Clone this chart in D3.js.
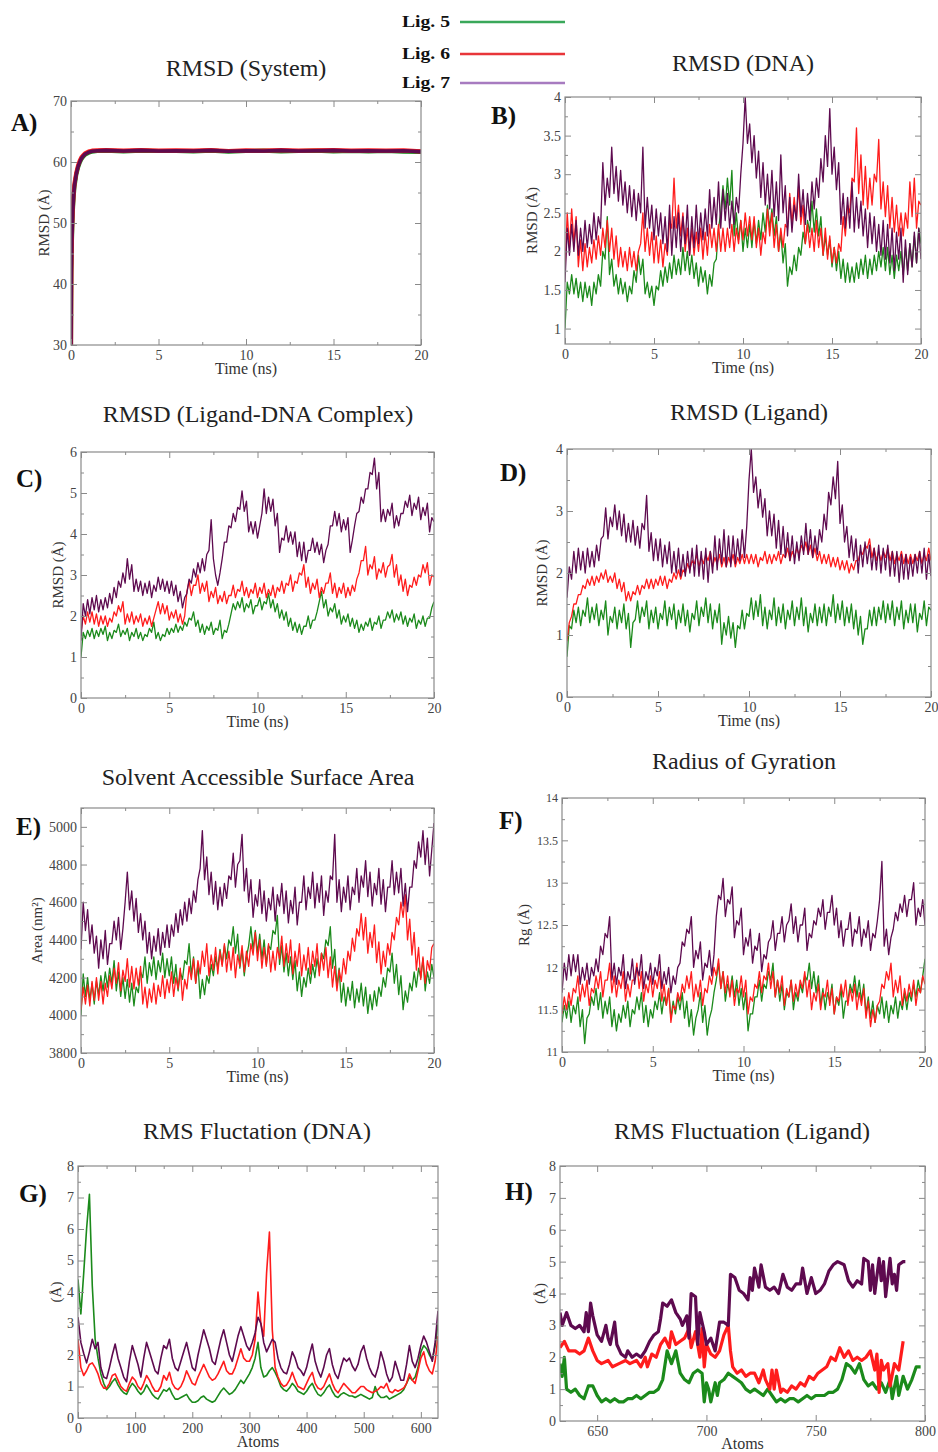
<!DOCTYPE html>
<html>
<head>
<meta charset="utf-8">
<script src="https://cdn.jsdelivr.net/npm/d3@7"></script>
<style>
  body { margin: 0; background: #fff; }
  svg { display: block; font-family: "Liberation Serif", "Times New Roman", serif; }
  .tick line { stroke: #8a8a8a; }
  .tick text { fill: #444; }
</style>
</head>
<body>
<svg width="938" height="1452"></svg>
<script>
// ---- categories / ticks ----
var ligands = ["Lig. 5", "Lig. 6", "Lig. 7"];
var time = d3.range(161).map(function (i) { return i * 0.125; });  // 0..20 ns
var atomsDNA = d3.range(0, 631, 5);                                  // 0..630
var timeTicks = [0, 5, 10, 15, 20], timeMinor = [2.5, 7.5, 12.5, 17.5];

// ---- A) RMSD (System) ----
var aTime = [0, 0.02, 0.05, 0.1, 0.15, 0.2, 0.3, 0.4, 0.5, 0.6, 0.7, 0.8, 1.0, 1.2, 1.5,
  2, 3, 4, 5, 6, 7, 8, 9, 10, 11, 12, 13, 14, 15, 16, 17, 18, 19, 20];
var aLig5 = [30, 41.5, 47, 51.8, 54.3, 56, 57.9, 59.1, 59.9, 60.5, 60.9, 61.2, 61.5, 61.7, 61.8,
  61.85, 61.75, 61.85, 61.8, 61.8, 61.75, 61.85, 61.7, 61.8, 61.85, 61.75, 61.8, 61.85, 61.75, 61.8, 61.75, 61.8, 61.7, 61.65];
var aLig6 = [30, 42.5, 48, 52.3, 54.8, 56.5, 58.2, 59.4, 60.2, 60.8, 61.1, 61.4, 61.7, 61.85, 61.9,
  61.95, 61.85, 61.95, 61.85, 61.9, 61.85, 61.95, 61.8, 61.9, 61.85, 61.95, 61.85, 61.9, 61.95, 61.85, 61.9, 61.85, 61.9, 61.75];
var aLig7 = [30, 42, 47.5, 52, 54.5, 56.2, 58, 59.2, 60, 60.6, 61, 61.3, 61.6, 61.75, 61.85,
  61.9, 61.8, 61.9, 61.8, 61.85, 61.8, 61.9, 61.75, 61.85, 61.8, 61.9, 61.8, 61.85, 61.9, 61.8, 61.85, 61.8, 61.85, 61.7];

// ---- B) RMSD (DNA), one row per ns ----
var bLig5 = [
  1.0, 1.6, 1.45, 1.7, 1.45, 1.65, 1.4, 1.6,
  1.35, 1.6, 1.4, 1.55, 1.3, 1.6, 1.45, 1.7,
  1.55, 2.0, 1.9, 2.45, 1.7, 1.9, 1.55, 1.7,
  1.45, 1.65, 1.45, 1.6, 1.35, 1.55, 1.45, 1.75,
  1.6, 1.95, 1.7, 1.9, 1.45, 1.6, 1.4, 1.55,
  1.3, 1.55, 1.5, 1.75, 1.55, 1.8, 1.6, 1.85,
  1.65, 1.95, 1.7, 1.9, 1.7, 2.05, 1.75, 2.0,
  1.7, 1.95, 1.65, 1.85, 1.55, 1.8, 1.6, 1.75,
  1.45, 1.7, 1.55, 1.85, 1.9, 2.3, 2.5, 2.85,
  2.55, 2.95, 2.6, 3.05, 2.2, 2.5, 2.15, 2.4,
  2.0, 2.3, 2.05, 2.35, 2.05, 2.4, 2.1, 2.4,
  2.15, 2.5, 2.25, 2.6, 2.3, 2.55, 2.2, 2.45,
  2.0, 2.25, 1.85, 2.1, 1.55, 1.8, 1.7, 1.95,
  1.75, 2.05, 1.95, 2.25, 2.1, 2.4, 2.25, 2.65,
  2.25, 2.55, 2.2, 2.45, 1.95, 2.2, 1.95, 2.15,
  1.8, 2.05, 1.75, 2.0, 1.65, 1.9, 1.6, 1.85,
  1.6, 1.8, 1.6, 1.85, 1.65, 1.9, 1.7, 1.95,
  1.65, 1.9, 1.7, 1.95, 1.75, 2.0, 1.8, 2.05,
  1.75, 2.05, 1.7, 1.95, 1.65, 1.95, 1.75, 2.0,
  1.7, 2.05, 1.75, 2.1, 1.8, 2.2, 1.85, 2.3,
  2.1];
var bLig6 = [
  1.75, 2.5, 2.05, 2.55, 2.1, 2.45, 1.8, 2.15,
  1.75, 2.1, 1.8, 2.05, 1.85, 2.15, 1.9, 2.2,
  1.95, 2.3, 2.05, 2.4, 2.0, 2.3, 1.9, 2.2,
  1.8, 2.05, 1.8, 2.0, 1.75, 2.05, 1.8, 2.0,
  1.75, 2.0, 2.1, 2.5, 2.0, 2.3, 1.95, 2.25,
  1.85, 2.2, 1.85, 2.15, 1.8, 2.1, 1.95, 2.4,
  2.3, 2.95, 2.3, 2.6, 2.2, 2.5, 2.0, 2.3,
  1.95, 2.3, 1.95, 2.25, 2.0, 2.3, 1.9, 2.25,
  1.95, 2.35, 2.05, 2.3, 2.0, 2.35, 2.0, 2.3,
  2.0, 2.3, 2.05, 2.35, 2.0, 2.3, 2.1, 2.4,
  2.15, 2.5, 2.2, 2.45, 2.15, 2.45, 2.05, 2.3,
  1.95, 2.25, 2.1, 2.55, 2.2, 2.5, 2.05, 2.35,
  2.0, 2.3, 2.05, 2.35, 2.3, 2.75, 2.35, 2.7,
  2.4, 2.85, 2.35, 2.6, 2.1, 2.35, 2.05, 2.3,
  2.0, 2.4, 2.05, 2.3, 1.95, 2.3, 1.9, 2.2,
  1.85, 2.05, 1.85, 2.1, 2.0, 2.45, 2.2, 2.6,
  2.5, 2.95, 2.9, 3.6, 2.75, 3.25, 2.6, 3.1,
  2.55, 2.95, 2.6, 3.0, 2.9, 3.45, 2.55, 2.9,
  2.45, 2.85, 2.3, 2.7, 2.25, 2.6, 2.2, 2.5,
  2.2, 2.5, 2.3, 2.9, 2.45, 2.95, 2.3, 2.65,
  2.6];
var bLig7 = [
  1.6, 2.3, 1.95, 2.35, 2.0, 2.4, 1.95, 2.3,
  2.0, 2.4, 2.05, 2.35, 2.1, 2.5, 2.15, 2.45,
  2.3, 3.15, 2.6, 2.95, 2.7, 3.35, 2.75, 3.1,
  2.65, 3.05, 2.6, 2.9, 2.5, 2.85, 2.45, 2.8,
  2.4, 2.75, 2.5, 3.35, 2.3, 2.7, 2.3, 2.6,
  2.15, 2.55, 2.2, 2.5, 2.1, 2.45, 2.0, 2.6,
  1.95, 2.45, 2.05, 2.5, 2.0, 2.45, 2.1, 2.6,
  1.95, 2.45, 2.05, 2.6, 2.1, 2.5, 2.15, 2.55,
  2.2, 2.8, 2.3, 2.7, 2.35, 2.9, 2.3, 2.8,
  2.4, 2.75, 2.3, 2.65, 2.35, 2.7, 2.5, 3.0,
  3.4, 4.0, 3.4, 3.65, 3.15, 3.5, 2.95, 3.3,
  2.7, 3.15, 2.6, 3.0, 2.55, 3.05, 2.45, 2.9,
  2.4, 3.25, 2.5, 2.85, 2.2, 2.7, 2.25, 2.6,
  2.4, 3.0, 2.45, 2.8, 2.35, 2.75, 2.4, 2.9,
  2.55, 2.95, 2.7, 3.2, 2.9, 3.5, 3.1, 3.85,
  3.0, 3.35, 2.8, 3.15, 2.35, 2.75, 2.3, 2.7,
  2.3, 2.9, 2.25, 2.7, 2.3, 2.65, 2.2, 2.55,
  2.05, 2.5, 2.1, 2.45, 2.0, 2.35, 1.95, 2.4,
  1.9, 2.35, 1.85, 2.3, 1.75, 2.25, 1.9, 2.3,
  1.6, 2.15, 1.7, 2.1, 1.8, 2.25, 1.85, 2.3,
  1.9];

// ---- C) RMSD (Ligand-DNA Complex) ----
var cLig5 = [
  1.0, 1.6, 1.45, 1.65, 1.5, 1.7, 1.45, 1.65,
  1.5, 1.7, 1.55, 1.75, 1.4, 1.6, 1.45, 1.65,
  1.6, 1.8, 1.5, 1.65, 1.55, 1.7, 1.4, 1.6,
  1.5, 1.7, 1.45, 1.6, 1.4, 1.55, 1.5, 1.7,
  1.6, 1.85, 1.45, 1.6, 1.4, 1.55, 1.5, 1.7,
  1.55, 1.7, 1.6, 1.8, 1.6, 1.75, 1.65, 1.85,
  1.75, 1.95, 1.9, 2.1, 1.75, 1.9, 1.6, 1.8,
  1.55, 1.75, 1.65, 1.85, 1.55, 1.7, 1.65, 1.9,
  1.45, 1.65, 1.6, 1.8, 2.05, 2.3, 2.15, 2.35,
  2.2, 2.45, 2.1, 2.3, 2.2, 2.4, 2.05, 2.25,
  2.25, 2.45, 2.15, 2.35, 2.3, 2.55, 2.2, 2.4,
  2.1, 2.3, 1.95, 2.15, 1.9, 2.1, 1.75, 1.95,
  1.65, 1.85, 1.6, 1.8, 1.55, 1.75, 1.75, 2.0,
  1.7, 1.9, 1.9, 2.1, 2.35, 2.6, 2.2, 2.4,
  2.0, 2.2, 2.1, 2.3, 1.95, 2.15, 1.8, 2.0,
  1.85, 2.05, 1.75, 1.95, 1.7, 1.9, 1.6, 1.8,
  1.65, 1.85, 1.75, 1.95, 1.65, 1.85, 1.8, 2.0,
  1.7, 1.9, 1.9, 2.1, 1.95, 2.15, 1.85, 2.05,
  1.9, 2.1, 1.8, 2.0, 1.75, 1.95, 1.85, 2.05,
  1.7, 1.9, 1.8, 2.0, 1.75, 1.95, 1.95, 2.2,
  2.35];
var cLig6 = [
  1.6, 2.0, 1.8, 2.1, 1.85, 2.1, 1.8, 2.05,
  1.75, 2.0, 1.8, 2.0, 1.75, 1.95, 1.85, 2.1,
  2.0, 2.25, 2.1, 2.35, 1.8, 2.05, 1.85, 2.1,
  1.8, 2.0, 1.85, 2.05, 1.75, 1.95, 1.8, 2.0,
  1.75, 1.95, 2.15, 2.35, 2.05, 2.3, 2.05, 2.25,
  1.9, 2.1, 1.95, 2.15, 1.85, 2.05, 1.8, 2.0,
  2.6, 2.85, 2.5, 2.75, 2.75, 3.0, 2.55, 2.8,
  2.6, 2.85, 2.35, 2.6, 2.45, 2.7, 2.3, 2.5,
  2.35, 2.6, 2.3, 2.5, 2.5, 2.75, 2.45, 2.65,
  2.6, 2.85, 2.5, 2.7, 2.45, 2.65, 2.55, 2.8,
  2.45, 2.7, 2.55, 2.8, 2.45, 2.65, 2.5, 2.75,
  2.45, 2.7, 2.6, 2.85, 2.55, 2.8, 2.75, 3.0,
  2.6, 2.85, 2.8, 3.05, 3.0, 3.25, 2.7, 2.95,
  2.55, 2.8, 2.65, 2.9, 2.45, 2.7, 2.55, 2.8,
  2.8, 3.05, 2.55, 2.8, 2.45, 2.7, 2.55, 2.8,
  2.45, 2.7, 2.5, 2.75, 2.6, 2.9, 3.05, 3.35,
  3.35, 3.7, 3.0, 3.25, 3.15, 3.45, 2.9, 3.15,
  3.05, 3.3, 2.95, 3.2, 3.25, 3.5, 2.95, 3.25,
  2.75, 3.0, 2.6, 2.9, 2.5, 2.75, 2.7, 2.95,
  2.75, 3.0, 2.95, 3.25, 3.05, 3.3, 2.75, 3.0,
  2.95];
var cLig7 = [
  1.4, 2.3, 2.0, 2.4, 2.05, 2.45, 2.15, 2.5,
  2.1, 2.4, 2.15, 2.45, 2.2, 2.55, 2.3, 2.7,
  2.45, 2.85, 2.7, 3.05, 2.8, 3.4, 2.9, 3.25,
  2.6, 2.9, 2.6, 2.85, 2.5, 2.8, 2.55, 2.85,
  2.45, 2.75, 2.6, 2.95, 2.65, 2.9, 2.6, 2.85,
  2.55, 2.85, 2.5, 2.75, 2.35, 2.6, 2.2, 2.45,
  2.55, 2.9, 2.8, 3.15, 2.95, 3.3, 3.05, 3.4,
  3.1, 3.5, 3.6, 4.35, 3.4, 3.0, 2.75, 3.05,
  3.4, 3.8, 3.8, 4.2, 4.15, 4.5, 4.3, 4.65,
  4.6, 5.05, 4.55, 4.8, 4.05, 4.3, 4.0, 4.3,
  3.9, 4.2, 4.5, 5.1, 4.5, 4.9, 4.55, 4.85,
  4.2, 4.5, 3.55, 3.9, 3.85, 4.2, 3.8, 4.05,
  3.75, 4.05, 3.45, 3.8, 3.35, 3.8, 3.3, 3.6,
  3.6, 3.9, 3.55, 3.8, 3.5, 3.75, 3.3, 3.6,
  3.75, 4.2, 4.2, 4.55, 4.2, 4.5, 4.05, 4.35,
  4.1, 4.4, 3.55, 3.85, 4.2, 4.5, 4.55, 4.9,
  4.75, 5.1, 5.1, 5.5, 5.45, 5.85, 5.1, 5.5,
  4.3, 4.6, 4.3, 4.6, 4.45, 4.75, 4.15, 4.45,
  4.2, 4.5, 4.5, 4.8, 4.65, 4.95, 4.45, 4.75,
  4.6, 4.9, 4.35, 4.65, 4.45, 4.75, 4.05, 4.4,
  4.3];

// ---- D) RMSD (Ligand) ----
var dLig5 = [
  0.65, 1.15, 1.1, 1.4, 1.2, 1.45, 1.15, 1.4,
  1.3, 1.6, 1.2, 1.45, 1.25, 1.5, 1.15, 1.4,
  1.25, 1.55, 1.0, 1.3, 1.2, 1.45, 1.1, 1.4,
  1.2, 1.5, 1.1, 1.35, 0.8, 1.2, 1.25, 1.55,
  1.2, 1.45, 1.3, 1.55, 1.1, 1.4, 1.2, 1.45,
  1.1, 1.35, 1.25, 1.55, 1.15, 1.45, 1.25, 1.5,
  1.1, 1.4, 1.2, 1.5, 1.15, 1.4, 1.05, 1.35,
  1.25, 1.55, 1.15, 1.45, 1.3, 1.6, 1.2, 1.5,
  1.1, 1.4, 1.2, 1.5, 0.85, 1.2, 1.0, 1.3,
  0.95, 1.2, 0.8, 1.15, 1.1, 1.4, 1.1, 1.35,
  1.3, 1.6, 1.25, 1.55, 1.3, 1.65, 1.15, 1.45,
  1.1, 1.4, 1.25, 1.6, 1.15, 1.45, 1.2, 1.5,
  1.1, 1.4, 1.25, 1.55, 1.15, 1.45, 1.25, 1.6,
  1.15, 1.45, 1.05, 1.35, 1.2, 1.5, 1.15, 1.45,
  1.2, 1.5, 1.15, 1.45, 1.3, 1.65, 1.2, 1.5,
  1.25, 1.55, 1.15, 1.45, 1.2, 1.5, 1.1, 1.4,
  1.0, 1.3, 0.85, 1.1, 1.1, 1.4, 1.15, 1.45,
  1.15, 1.45, 1.25, 1.55, 1.2, 1.5, 1.25, 1.55,
  1.15, 1.45, 1.25, 1.55, 1.1, 1.4, 1.2, 1.5,
  1.2, 1.5, 1.05, 1.35, 1.25, 1.55, 1.15, 1.45,
  1.4];
var dLig6 = [
  0.9, 1.2, 1.3, 1.5, 1.5, 1.65, 1.65, 1.8,
  1.75, 1.9, 1.8, 1.95, 1.8, 1.95, 1.85, 2.0,
  1.9, 2.05, 1.85, 1.95, 1.85, 2.0, 1.75, 1.9,
  1.7, 1.85, 1.55, 1.7, 1.55, 1.7, 1.65, 1.8,
  1.65, 1.8, 1.75, 1.9, 1.75, 1.9, 1.75, 1.9,
  1.8, 1.95, 1.8, 1.95, 1.75, 1.9, 1.85, 2.0,
  1.9, 2.05, 1.9, 2.05, 2.0, 2.15, 2.05, 2.2,
  2.15, 2.3, 2.1, 2.25, 2.15, 2.3, 2.2, 2.35,
  2.1, 2.25, 2.15, 2.3, 2.1, 2.25, 2.1, 2.25,
  2.15, 2.3, 2.1, 2.25, 2.15, 2.3, 2.15, 2.3,
  2.15, 2.3, 2.15, 2.3, 2.1, 2.25, 2.2, 2.35,
  2.15, 2.3, 2.15, 2.3, 2.2, 2.35, 2.15, 2.3,
  2.25, 2.4, 2.2, 2.35, 2.25, 2.4, 2.3, 2.45,
  2.35, 2.5, 2.3, 2.45, 2.25, 2.4, 2.2, 2.35,
  2.15, 2.3, 2.15, 2.3, 2.1, 2.25, 2.1, 2.25,
  2.05, 2.2, 2.05, 2.2, 2.0, 2.15, 2.05, 2.2,
  2.2, 2.35, 2.3, 2.45, 2.4, 2.55, 2.25, 2.4,
  2.2, 2.35, 2.2, 2.35, 2.25, 2.4, 2.2, 2.35,
  2.15, 2.3, 2.2, 2.35, 2.15, 2.3, 2.15, 2.3,
  2.15, 2.3, 2.2, 2.35, 2.15, 2.3, 2.2, 2.4,
  2.2];
var dLig7 = [
  1.6, 2.1, 1.9, 2.35, 2.0, 2.4, 2.05, 2.35,
  2.0, 2.4, 2.1, 2.35, 2.1, 2.45, 2.2, 2.55,
  2.6, 3.05, 2.55, 2.9, 2.75, 3.1, 2.7, 3.0,
  2.6, 2.95, 2.5, 2.8, 2.5, 2.85, 2.45, 2.75,
  2.4, 2.8, 2.7, 3.25, 2.35, 2.65, 2.2, 2.55,
  2.2, 2.55, 2.1, 2.45, 2.15, 2.5, 2.0, 2.35,
  2.0, 2.4, 1.95, 2.3, 1.95, 2.35, 2.0, 2.4,
  1.95, 2.45, 1.95, 2.35, 1.9, 2.4, 1.85, 2.35,
  2.0, 2.6, 2.05, 2.55, 2.15, 2.7, 2.1, 2.6,
  2.1, 2.6, 2.15, 2.55, 2.2, 2.7, 2.25, 2.75,
  3.5, 4.0, 3.3, 3.55, 3.05, 3.35, 2.9, 3.2,
  2.6, 3.0, 2.6, 2.95, 2.4, 2.85, 2.3, 2.75,
  2.25, 2.65, 2.2, 2.6, 2.15, 2.5, 2.2, 2.6,
  2.3, 2.8, 2.3, 2.7, 2.25, 2.6, 2.3, 2.7,
  2.5, 2.95, 2.7, 3.3, 3.1, 3.55, 3.2, 3.8,
  2.8, 3.1, 2.5, 2.75, 2.25, 2.6, 2.2, 2.55,
  2.0, 2.45, 2.1, 2.5, 2.15, 2.45, 2.05, 2.4,
  2.05, 2.45, 2.0, 2.4, 2.05, 2.45, 1.95, 2.35,
  1.95, 2.35, 1.85, 2.3, 1.9, 2.3, 1.9, 2.25,
  1.95, 2.3, 2.0, 2.35, 2.0, 2.4, 1.9, 2.3,
  1.95];

// ---- E) Solvent Accessible Surface Area ----
var eLig5 = [
  4000, 4220, 4100, 4200, 4080, 4170, 4060, 4180,
  4110, 4210, 4130, 4230, 4150, 4250, 4170, 4290,
  4130, 4230, 4100, 4200, 4090, 4190, 4070, 4170,
  4050, 4150, 4120, 4230, 4200, 4310, 4170, 4280,
  4210, 4310, 4190, 4290, 4230, 4330, 4200, 4300,
  4210, 4310, 4170, 4270, 4130, 4230, 4190, 4290,
  4270, 4380, 4210, 4310, 4170, 4270, 4090, 4190,
  4110, 4210, 4170, 4270, 4210, 4310, 4250, 4350,
  4270, 4370, 4300, 4400, 4370, 4470, 4330, 4430,
  4250, 4350, 4210, 4310, 4370, 4470, 4350, 4450,
  4330, 4430, 4300, 4400, 4270, 4370, 4350, 4450,
  4430, 4530, 4270, 4370, 4230, 4330, 4210, 4310,
  4190, 4290, 4130, 4230, 4100, 4200, 4150, 4250,
  4170, 4270, 4200, 4300, 4230, 4330, 4300, 4400,
  4370, 4470, 4250, 4350, 4150, 4250, 4070, 4170,
  4050, 4150, 4080, 4180, 4040, 4140, 4070, 4170,
  4050, 4150, 4010, 4110, 4030, 4130, 4050, 4150,
  4100, 4200, 4150, 4250, 4230, 4330, 4170, 4270,
  4110, 4210, 4030, 4130, 4070, 4170, 4130, 4230,
  4150, 4250, 4200, 4300, 4130, 4230, 4170, 4270,
  4200];
var eLig6 = [
  4030, 4150, 4060, 4160, 4050, 4180, 4080, 4200,
  4080, 4180, 4060, 4170, 4100, 4210, 4140, 4250,
  4170, 4280, 4130, 4240, 4180, 4300, 4150, 4260,
  4140, 4250, 4160, 4260, 4060, 4150, 4040, 4140,
  4070, 4170, 4060, 4160, 4100, 4210, 4090, 4190,
  4120, 4230, 4100, 4200, 4140, 4250, 4080, 4190,
  4140, 4260, 4190, 4300, 4170, 4290, 4220, 4340,
  4260, 4380, 4210, 4320, 4240, 4360, 4220, 4340,
  4260, 4380, 4230, 4340, 4240, 4360, 4200, 4320,
  4260, 4370, 4230, 4340, 4260, 4380, 4320, 4440,
  4290, 4400, 4250, 4360, 4260, 4380, 4230, 4340,
  4240, 4360, 4300, 4420, 4260, 4380, 4280, 4400,
  4220, 4340, 4260, 4380, 4210, 4320, 4240, 4360,
  4220, 4340, 4260, 4380, 4210, 4330, 4240, 4360,
  4200, 4310, 4150, 4260, 4130, 4240, 4180, 4300,
  4220, 4340, 4290, 4410, 4340, 4460, 4420, 4540,
  4400, 4520, 4330, 4440, 4360, 4480, 4280, 4390,
  4220, 4340, 4260, 4380, 4320, 4440, 4400, 4520,
  4480, 4600, 4520, 4640, 4400, 4510, 4320, 4440,
  4240, 4360, 4190, 4310, 4170, 4290, 4240, 4360,
  4380];
var eLig7 = [
  4350, 4600, 4450, 4560, 4380, 4480, 4330, 4420,
  4250, 4400, 4300, 4450, 4270, 4380, 4380, 4500,
  4400, 4520, 4350, 4460, 4600, 4760, 4560, 4660,
  4500, 4620, 4440, 4540, 4400, 4500, 4330, 4440,
  4300, 4420, 4340, 4460, 4320, 4440, 4360, 4480,
  4360, 4480, 4420, 4540, 4440, 4560, 4480, 4600,
  4500, 4620, 4540, 4660, 4600, 4720, 4780, 4980,
  4720, 4840, 4640, 4760, 4590, 4710, 4560, 4680,
  4580, 4700, 4620, 4740, 4720, 4860, 4680, 4800,
  4820, 4960, 4660, 4780, 4600, 4720, 4520, 4640,
  4580, 4720, 4540, 4660, 4500, 4620, 4560, 4680,
  4500, 4640, 4580, 4700, 4540, 4660, 4490, 4610,
  4540, 4680, 4480, 4600, 4600, 4740, 4560, 4680,
  4620, 4760, 4570, 4700, 4600, 4740, 4530, 4660,
  4600, 4740, 4720, 4960, 4600, 4720, 4550, 4680,
  4600, 4740, 4560, 4680, 4640, 4780, 4600, 4740,
  4680, 4820, 4630, 4760, 4580, 4700, 4640, 4780,
  4590, 4720, 4550, 4680, 4680, 4820, 4640, 4760,
  4650, 4780, 4580, 4700, 4550, 4680, 4680, 4820,
  4780, 4920, 4840, 4980, 4800, 4940, 4740, 4880,
  5020];

// ---- F) Radius of Gyration ----
var fLig5 = [
  11.35, 11.55, 11.4, 11.6, 11.35, 11.55, 11.45, 11.65,
  11.3, 11.5, 11.1, 11.4, 11.45, 11.65, 11.55, 11.75,
  11.5, 11.7, 11.4, 11.6, 11.45, 11.65, 11.3, 11.5,
  11.25, 11.45, 11.35, 11.55, 11.4, 11.6, 11.3, 11.5,
  11.45, 11.65, 11.5, 11.7, 11.35, 11.55, 11.3, 11.5,
  11.4, 11.6, 11.5, 11.7, 11.45, 11.65, 11.55, 11.75,
  11.4, 11.6, 11.45, 11.65, 11.5, 11.7, 11.4, 11.6,
  11.3, 11.5, 11.2, 11.4, 11.5, 11.7, 11.35, 11.55,
  11.2, 11.4, 11.5, 11.7, 11.85, 12.05, 11.75, 11.95,
  11.6, 11.8, 11.7, 11.9, 11.65, 11.85, 11.55, 11.75,
  11.5, 11.7, 11.25, 11.45, 11.45, 11.65, 11.65, 11.85,
  11.6, 11.8, 11.75, 11.95, 11.85, 12.05, 11.65, 11.85,
  11.6, 11.8, 11.5, 11.7, 11.65, 11.85, 11.5, 11.7,
  11.6, 11.8, 11.7, 11.9, 11.85, 12.05, 11.75, 11.95,
  11.7, 11.9, 11.55, 11.75, 11.5, 11.7, 11.6, 11.8,
  11.45, 11.65, 11.55, 11.75, 11.4, 11.6, 11.6, 11.8,
  11.7, 11.9, 11.65, 11.85, 11.6, 11.8, 11.45, 11.65,
  11.4, 11.6, 11.35, 11.55, 11.45, 11.65, 11.4, 11.6,
  11.35, 11.55, 11.45, 11.65, 11.4, 11.6, 11.5, 11.7,
  11.5, 11.7, 11.6, 11.8, 11.65, 11.85, 11.7, 11.9,
  12.1];
var fLig6 = [
  11.45, 11.65, 11.5, 11.7, 11.55, 11.75, 11.7, 11.9,
  11.6, 11.8, 11.65, 11.85, 11.55, 11.75, 11.7, 11.9,
  11.75, 11.95, 11.65, 11.85, 11.85, 12.05, 11.7, 11.9,
  11.65, 11.85, 11.75, 11.95, 11.6, 11.8, 11.65, 11.85,
  11.85, 12.05, 11.75, 11.95, 11.6, 11.8, 11.7, 11.9,
  11.65, 11.85, 11.75, 11.95, 11.6, 11.8, 11.55, 11.75,
  11.35, 11.55, 11.5, 11.7, 11.6, 11.8, 11.7, 11.9,
  11.75, 11.95, 11.6, 11.8, 11.65, 11.85, 11.55, 11.75,
  11.7, 11.9, 11.8, 12.0, 11.9, 12.1, 11.75, 11.95,
  11.7, 11.9, 11.65, 11.85, 11.55, 11.75, 11.7, 11.9,
  11.65, 11.85, 11.45, 11.65, 11.6, 11.8, 11.75, 11.95,
  11.7, 11.9, 11.85, 12.05, 11.75, 11.95, 11.65, 11.85,
  11.7, 11.9, 11.55, 11.75, 11.65, 11.85, 11.6, 11.8,
  11.65, 11.85, 11.75, 11.95, 11.65, 11.85, 11.5, 11.7,
  11.6, 11.8, 11.5, 11.7, 11.65, 11.85, 11.55, 11.75,
  11.45, 11.65, 11.6, 11.8, 11.65, 11.85, 11.55, 11.75,
  11.6, 11.8, 11.5, 11.7, 11.55, 11.75, 11.4, 11.6,
  11.3, 11.5, 11.35, 11.55, 11.6, 11.8, 11.75, 11.95,
  11.85, 12.05, 11.65, 11.85, 11.7, 11.9, 11.55, 11.75,
  11.6, 11.8, 11.65, 11.85, 11.55, 11.75, 11.7, 11.9,
  11.8];
var fLig7 = [
  11.7, 12.05, 11.85, 12.15, 11.9, 12.15, 11.95, 12.15,
  11.8, 12.0, 11.85, 12.05, 11.8, 12.0, 11.9, 12.1,
  11.95, 12.25, 12.15, 12.4, 12.35, 12.6, 11.85, 12.05,
  11.8, 12.0, 11.9, 12.15, 11.75, 11.95, 11.85, 12.1,
  11.8, 12.0, 11.9, 12.15, 11.75, 11.95, 11.85, 12.05,
  11.8, 12.0, 11.9, 12.15, 11.75, 11.95, 11.8, 12.0,
  11.7, 11.9, 11.8, 12.0, 12.05, 12.3, 12.25, 12.45,
  12.4, 12.6, 12.0, 12.2, 12.1, 12.3, 11.85, 12.05,
  12.0, 12.2, 11.9, 12.15, 12.6, 12.85, 12.8, 13.05,
  12.6, 12.8, 12.75, 12.95, 12.35, 12.55, 12.5, 12.7,
  12.15, 12.35, 12.25, 12.45, 12.05, 12.25, 12.2, 12.4,
  11.95, 12.15, 12.1, 12.3, 12.35, 12.55, 12.2, 12.4,
  12.4, 12.6, 12.3, 12.5, 12.55, 12.75, 12.4, 12.6,
  12.3, 12.5, 12.5, 12.7, 12.2, 12.4, 12.35, 12.55,
  12.5, 12.7, 12.6, 12.8, 12.45, 12.65, 12.65, 12.85,
  12.5, 12.7, 12.35, 12.55, 12.25, 12.45, 12.45, 12.65,
  12.25, 12.45, 12.4, 12.6, 12.25, 12.45, 12.35, 12.55,
  12.2, 12.4, 12.35, 12.55, 12.8, 13.25, 12.25, 12.45,
  12.15, 12.35, 12.45, 12.65, 12.55, 12.75, 12.65, 12.85,
  12.6, 12.8, 12.8, 13.0, 12.5, 12.7, 12.6, 12.8,
  12.5];

// ---- G) RMS Fluctation (DNA), every 5th atom ----
var gLig5 = [4.4, 3.3, 4.6, 6.0, 7.1, 4.2, 2.5, 1.9, 1.4, 1.1, 0.9, 1.0, 1.15, 1.25, 1.05, 0.9,
  0.8, 0.75, 0.95, 1.1, 1.0, 0.85, 0.75, 0.85, 1.05, 0.9, 0.75, 0.65, 0.6, 0.75, 0.9, 0.85,
  0.95, 0.75, 0.6, 0.6, 0.65, 0.7, 0.75, 0.6, 0.5, 0.5, 0.55, 0.65, 0.7, 0.6, 0.55, 0.5,
  0.55, 0.7, 0.85, 0.95, 0.85, 0.75, 0.8, 0.9, 1.05, 1.2, 1.1, 1.25, 1.4, 1.6, 1.9, 2.4,
  1.6, 1.3, 1.35, 1.5, 1.6, 1.45, 1.25, 1.0, 0.9, 0.85, 0.95, 1.1, 1.0, 0.85, 0.8, 0.75,
  0.85, 1.0, 1.1, 0.9, 0.75, 0.7, 0.8, 0.95, 1.05, 0.85, 0.7, 0.65, 0.75, 0.8, 0.75, 0.7,
  0.7, 0.65, 0.7, 0.75, 0.7, 0.65, 0.6, 0.65, 1.0, 0.75, 0.65, 0.65, 0.7, 0.6, 0.65, 0.7,
  0.75, 0.8, 0.9, 1.1, 1.3, 1.2, 1.3, 1.6, 2.1, 2.3, 2.2, 2.0, 1.85, 2.3, 3.0];
var gLig6 = [2.5, 1.6, 1.35, 1.5, 1.7, 1.75, 1.6, 1.4, 1.1, 0.95, 0.95, 1.1, 1.35, 1.4, 1.2, 1.0,
  0.9, 0.85, 1.1, 1.3, 1.2, 1.0, 0.9, 1.1, 1.35, 1.2, 1.0, 0.85, 0.85, 1.0, 1.35, 1.2,
  1.45, 1.1, 0.95, 0.9, 1.0, 1.2, 1.5, 1.3, 1.1, 1.05, 1.3, 1.5, 1.7, 1.5, 1.3, 1.2,
  1.25, 1.4, 1.6, 1.8, 1.5, 1.4, 1.4, 1.6, 1.9, 2.2, 1.9, 1.8, 1.8, 2.0, 2.5, 4.0,
  3.0, 2.6, 4.6, 5.9, 2.8, 1.6, 1.3, 1.1, 1.0, 1.05, 1.2, 1.45, 1.2, 1.0, 0.95, 0.9,
  1.1, 1.3, 1.45, 1.1, 0.95, 0.9, 1.0, 1.2, 1.4, 1.1, 0.9, 0.8, 0.95, 1.1, 1.0, 0.9,
  0.8, 0.8, 0.9, 1.0, 1.0, 0.9, 0.85, 0.8, 0.85, 0.9, 1.0, 0.95, 1.1, 0.85, 0.8, 0.9,
  0.85, 0.9, 0.95, 1.1, 1.4, 1.2, 1.1, 1.5, 1.9, 2.1, 1.7, 1.5, 1.4, 1.8, 2.6];
var gLig7 = [3.2, 2.4, 2.05, 1.75, 2.1, 2.5, 2.2, 2.4, 1.6, 1.3, 1.25, 1.6, 2.0, 2.35, 1.9, 1.6,
  1.3, 1.15, 1.8, 2.3, 2.0, 1.7, 1.3, 1.9, 2.4, 2.1, 1.8, 1.5, 1.4, 1.9, 2.3, 2.2,
  2.5, 1.9, 1.6, 1.5, 1.8, 2.1, 2.4, 2.0, 1.6, 1.5, 2.0, 2.4, 2.8, 2.5, 2.2, 1.8,
  1.7, 2.1, 2.5, 2.8, 2.4, 2.0, 1.8, 2.2, 2.6, 2.9, 2.6, 2.3, 2.15, 2.4, 2.7, 3.2,
  3.0, 2.4, 2.1, 2.3, 2.5, 2.4, 1.9, 1.6, 1.45, 1.4, 1.7, 2.1, 1.9, 1.6, 1.5, 1.35,
  1.6, 2.0, 2.35, 1.8, 1.5, 1.3, 1.6, 2.0, 2.2, 1.7, 1.4, 1.25, 1.6, 1.9, 1.8, 1.9,
  1.65, 1.5, 1.7, 2.1, 2.3, 1.9, 1.6, 1.4, 1.3, 1.6, 2.1, 1.8, 1.4, 1.15, 1.3, 1.8,
  1.5, 1.2, 1.2, 1.7, 2.3, 1.8, 1.6, 1.9, 2.3, 2.6, 2.4, 2.1, 1.8, 2.4, 3.4];

// ---- H) RMS Fluctuation (Ligand) ----
var hAtom5 = [633, 634, 635, 636, 638, 640, 642, 644, 646, 648, 650, 652, 654, 656, 658, 660, 662, 664, 666, 668,
  670, 672, 674, 676, 678, 680, 682, 684, 686, 688, 690, 692, 694, 696, 698, 699, 700, 701, 702, 704,
  705, 706, 708, 710, 712, 714, 716, 718, 720, 722, 724, 726, 728, 730, 732, 734, 736, 738, 740, 742,
  744, 746, 748, 750, 752, 754, 756, 758, 760, 762, 764, 766, 768, 770, 772, 774, 776, 778, 780, 782,
  784, 785, 787, 788, 790, 792, 794, 796, 798];
var hLig5 = [1.8, 1.4, 2.0, 1.0, 0.9, 1.0, 0.8, 0.7, 1.1, 1.1, 0.8, 0.6, 0.7, 0.6, 0.7, 0.6, 0.6, 0.7, 0.7, 0.8,
  0.7, 0.8, 0.9, 0.9, 1.0, 1.3, 2.2, 1.8, 2.2, 1.5, 1.3, 1.2, 1.5, 1.6, 1.5, 0.6, 1.2, 1.0, 0.6, 1.2,
  0.8, 1.2, 1.3, 1.5, 1.4, 1.3, 1.2, 1.0, 0.9, 1.0, 0.9, 0.8, 1.0, 0.8, 0.6, 0.7, 0.6, 0.7, 0.7, 0.6,
  0.7, 0.8, 0.7, 0.8, 0.8, 0.8, 0.9, 0.9, 1.0, 1.3, 1.8, 1.7, 1.5, 1.8, 1.3, 1.1, 1.2, 1.0, 1.2, 0.9,
  1.3, 0.7, 1.4, 0.8, 1.4, 1.0, 1.3, 1.7, 1.7];
var hAtom6 = [633, 635, 637, 640, 642, 644, 646, 648, 650, 652, 655, 657, 660, 663, 665, 668, 670, 672, 673, 675,
  677, 679, 681, 683, 684, 686, 688, 690, 692, 693, 695, 697, 698, 699, 700, 702, 704, 706, 708, 710,
  711, 712, 714, 716, 718, 720, 722, 724, 726, 727, 729, 730, 731, 732, 734, 735, 737, 739, 741, 743,
  745, 747, 749, 751, 753, 755, 757, 759, 761, 763, 765, 767, 769, 771, 773, 775, 777, 778, 779, 780,
  781, 783, 784, 786, 788, 790];
var hLig6 = [2.3, 2.5, 2.2, 2.2, 2.1, 2.2, 2.6, 2.2, 1.9, 1.8, 1.9, 1.7, 1.8, 1.9, 1.8, 1.9, 1.7, 2.0, 1.7, 2.1,
  2.0, 2.4, 2.6, 2.3, 2.8, 2.4, 2.5, 2.6, 2.9, 2.3, 2.8, 2.0, 2.9, 1.7, 2.4, 2.1, 2.0, 2.2, 2.7, 3.0,
  2.2, 1.7, 1.5, 1.6, 1.4, 1.5, 1.5, 1.2, 1.6, 1.3, 1.0, 1.6, 1.0, 1.6, 0.9, 1.0, 0.9, 1.1, 1.0, 1.2,
  1.1, 1.4, 1.3, 1.5, 1.6, 1.7, 2.0, 1.9, 2.3, 2.0, 2.2, 1.9, 2.0, 1.9, 2.0, 2.2, 1.6, 2.1, 0.9, 1.9,
  1.6, 1.8, 1.1, 1.8, 1.6, 2.5];
var hAtom7 = [633, 634, 636, 638, 640, 642, 644, 645, 646, 647, 648, 650, 652, 654, 655, 656, 658, 659, 661, 663,
  664, 666, 668, 670, 672, 674, 676, 678, 679, 680, 682, 684, 686, 688, 689, 691, 692, 693, 695, 696,
  697, 699, 700, 702, 704, 706, 708, 710, 711, 713, 715, 717, 719, 720, 721, 722, 724, 725, 727, 729,
  731, 733, 735, 737, 739, 741, 743, 744, 746, 748, 750, 752, 754, 756, 758, 760, 763, 765, 767, 769,
  771, 772, 774, 775, 776, 777, 779, 780, 781, 782, 784, 785, 786, 787, 788, 790, 791];
var hLig7 = [3.4, 3.0, 3.4, 3.0, 2.9, 3.0, 2.8, 3.4, 2.8, 3.7, 3.3, 2.7, 2.5, 3.0, 2.6, 2.4, 3.1, 2.4, 2.1, 2.0,
  2.2, 2.0, 2.1, 2.0, 2.2, 2.5, 2.7, 2.8, 3.2, 3.7, 3.6, 3.8, 3.4, 3.2, 3.0, 3.3, 2.6, 4.0, 3.9, 2.4,
  3.4, 2.8, 2.4, 2.6, 2.2, 3.1, 3.1, 3.0, 4.6, 4.5, 4.1, 4.0, 3.8, 4.5, 4.1, 4.8, 4.2, 4.9, 4.2, 4.1,
  4.2, 4.0, 4.6, 4.2, 4.1, 4.3, 4.3, 4.8, 4.0, 4.5, 4.0, 4.1, 4.3, 4.7, 4.9, 5.0, 4.9, 4.4, 4.2, 4.4,
  4.3, 5.1, 5.0, 4.1, 4.9, 4.0, 5.1, 4.4, 5.0, 3.9, 5.1, 4.3, 4.6, 4.1, 4.9, 5.0, 5.0];

// ---------------------------------------------------------------
var svg = d3.select("svg");
var green = "#1b8a1b", red = "#ff1c1c", purple = "#5e0a4f";

function series(xs, ys, color, width) {
  return { points: d3.zip(xs, ys), color: color, width: width };
}
function three(xs, s5, s6, s7, w) {
  return [series(xs, s5, green, w), series(xs, s6, red, w), series(xs, s7, purple, w)];
}

var panels = [
  { id: "A", left: 71, right: 421, top: 101, bottom: 345, xDomain: [0, 20], yDomain: [30, 70],
    xTicks: timeTicks, xMinor: timeMinor, yTicks: [30, 40, 50, 60, 70], yMinor: [35, 45, 55, 65],
    title: "RMSD (System)", tx: 246, ty: 76, letter: "A)", lx: 11, ly: 131,
    yLabel: "RMSD (Å)", ylx: 44, xLabel: "Time (ns)", yFont: 14,
    series: [series(aTime, aLig5, green, 4.2), series(aTime, aLig6, red, 4.2), series(aTime, aLig7, purple, 3.6)] },
  { id: "B", left: 565, right: 921, top: 97, bottom: 344, xDomain: [0, 20], yDomain: [0.8, 4],
    xTicks: timeTicks, xMinor: timeMinor, yTicks: [1, 1.5, 2, 2.5, 3, 3.5, 4], yMinor: [1.25, 1.75, 2.25, 2.75, 3.25, 3.75],
    title: "RMSD (DNA)", tx: 743, ty: 71, letter: "B)", lx: 491, ly: 124,
    yLabel: "RMSD (Å)", ylx: 532, xLabel: "Time (ns)", yFont: 14,
    series: three(time, bLig5, bLig6, bLig7, 1.3) },
  { id: "C", left: 81, right: 434, top: 452, bottom: 698, xDomain: [0, 20], yDomain: [0, 6],
    xTicks: timeTicks, xMinor: timeMinor, yTicks: [0, 1, 2, 3, 4, 5, 6], yMinor: [0.5, 1.5, 2.5, 3.5, 4.5, 5.5],
    title: "RMSD (Ligand-DNA Complex)", tx: 258, ty: 422, letter: "C)", lx: 16, ly: 487,
    yLabel: "RMSD (Å)", ylx: 58, xLabel: "Time (ns)", yFont: 14,
    series: three(time, cLig5, cLig6, cLig7, 1.3) },
  { id: "D", left: 567, right: 931, top: 449, bottom: 697, xDomain: [0, 20], yDomain: [0, 4],
    xTicks: timeTicks, xMinor: timeMinor, yTicks: [0, 1, 2, 3, 4], yMinor: [0.5, 1.5, 2.5, 3.5],
    title: "RMSD (Ligand)", tx: 749, ty: 420, letter: "D)", lx: 500, ly: 481,
    yLabel: "RMSD (Å)", ylx: 542, xLabel: "Time (ns)", yFont: 14,
    series: three(time, dLig5, dLig6, dLig7, 1.3) },
  { id: "E", left: 81, right: 434, top: 808, bottom: 1053, xDomain: [0, 20], yDomain: [3800, 5100],
    xTicks: timeTicks, xMinor: timeMinor, yTicks: [3800, 4000, 4200, 4400, 4600, 4800, 5000],
    yMinor: [3900, 4100, 4300, 4500, 4700, 4900, 5100],
    title: "Solvent Accessible Surface Area", tx: 258, ty: 785, letter: "E)", lx: 16, ly: 835,
    yLabel: "Area (nm²)", ylx: 37, xLabel: "Time (ns)", yFont: 14,
    series: three(time, eLig5, eLig6, eLig7, 1.3) },
  { id: "F", left: 562, right: 925, top: 798, bottom: 1052, xDomain: [0, 20], yDomain: [11, 14],
    xTicks: timeTicks, xMinor: timeMinor, yTicks: [11, 11.5, 12, 12.5, 13, 13.5, 14],
    yMinor: [11.25, 11.75, 12.25, 12.75, 13.25, 13.75],
    title: "Radius of Gyration", tx: 744, ty: 769, letter: "F)", lx: 499, ly: 829,
    yLabel: "Rg (Å)", ylx: 524, xLabel: "Time (ns)", yFont: 12,
    series: three(time, fLig5, fLig6, fLig7, 1.3) },
  { id: "G", left: 78, right: 438, top: 1166, bottom: 1418, xDomain: [0, 630], yDomain: [0, 8],
    xTicks: [0, 100, 200, 300, 400, 500, 600], xMinor: [50, 150, 250, 350, 450, 550],
    yTicks: [0, 1, 2, 3, 4, 5, 6, 7, 8], yMinor: [0.5, 1.5, 2.5, 3.5, 4.5, 5.5, 6.5, 7.5],
    title: "RMS Fluctation (DNA)", tx: 257, ty: 1139, letter: "G)", lx: 19, ly: 1202,
    yLabel: "(Å)", ylx: 56, xLabel: "Atoms", yFont: 14,
    series: three(atomsDNA, gLig5, gLig6, gLig7, 1.6) },
  { id: "H", left: 560, right: 925, top: 1166, bottom: 1421, xDomain: [633, 800], yDomain: [0, 8],
    xTicks: [650, 700, 750, 800], xMinor: [675, 725, 775],
    yTicks: [0, 1, 2, 3, 4, 5, 6, 7, 8], yMinor: [0.5, 1.5, 2.5, 3.5, 4.5, 5.5, 6.5, 7.5],
    title: "RMS Fluctuation (Ligand)", tx: 742, ty: 1139, letter: "H)", lx: 505, ly: 1200,
    yLabel: "(Å)", ylx: 540, xLabel: "Atoms", yFont: 14,
    series: [series(hAtom5, hLig5, green, 3.2), series(hAtom6, hLig6, red, 3.2), series(hAtom7, hLig7, purple, 3.2)] }
];

panels.forEach(function (p) {
  var w = p.right - p.left, h = p.bottom - p.top;
  var x = d3.scaleLinear().domain(p.xDomain).range([0, w]);
  var y = d3.scaleLinear().domain(p.yDomain).range([h, 0]);
  var g = svg.append("g").attr("transform", "translate(" + p.left + "," + p.top + ")");

  g.append("clipPath").attr("id", "clip" + p.id)
    .append("rect").attr("width", w).attr("height", h);

  var line = d3.line().x(function (d) { return x(d[0]); }).y(function (d) { return y(d[1]); });
  var plot = g.append("g").attr("clip-path", "url(#clip" + p.id + ")");
  p.series.forEach(function (s) {
    plot.append("path").datum(s.points)
      .attr("fill", "none").attr("stroke", s.color).attr("stroke-width", s.width)
      .attr("stroke-linejoin", "round").attr("d", line);
  });

  var fmt = function (d) { return String(d); };
  var axes = [
    [d3.axisBottom(x), "translate(0," + h + ")", p.xTicks, p.xMinor, fmt, 14, 5],
    [d3.axisTop(x), null, p.xTicks, p.xMinor, "", 14, 4],
    [d3.axisLeft(y), null, p.yTicks, p.yMinor, fmt, p.yFont, 4],
    [d3.axisRight(y), "translate(" + w + ",0)", p.yTicks, p.yMinor, "", p.yFont, 4]
  ];
  axes.forEach(function (a) {
    var major = g.append("g").attr("transform", a[1])
      .style("font-size", a[5] + "px").style("font-family", "inherit")
      .call(a[0].tickValues(a[2]).tickSize(-6).tickPadding(a[6]).tickFormat(a[4]));
    major.select(".domain").remove();
    var minor = g.append("g").attr("transform", a[1])
      .call(a[0].tickValues(a[3]).tickSize(-3).tickFormat(""));
    minor.select(".domain").remove();
  });

  g.append("rect").attr("width", w).attr("height", h)
    .attr("fill", "none").attr("stroke", "#8a8a8a").attr("stroke-width", 1.2);

  // labels
  svg.append("text").attr("x", p.tx).attr("y", p.ty).attr("text-anchor", "middle")
    .style("font-size", "24px").style("fill", "#222").text(p.title);
  svg.append("text").attr("x", p.lx).attr("y", p.ly)
    .style("font-size", "25px").style("font-weight", "bold").style("fill", "#111").text(p.letter);
  svg.append("text").attr("transform", "translate(" + p.ylx + "," + (p.top + h / 2) + ") rotate(-90)")
    .attr("text-anchor", "middle").attr("dy", "0.35em")
    .style("font-size", "15px").style("fill", "#333").text(p.yLabel);
  svg.append("text").attr("x", p.left + w / 2).attr("y", Math.min(p.bottom + 29, 1449))
    .attr("text-anchor", "middle").style("font-size", "16px").style("fill", "#333").text(p.xLabel);
});

// legend
var legendColors = ["#3aa85a", "#e8353a", "#a77bc0"];
var legendY = [22, 54, 83];
var legend = svg.append("g").selectAll("g").data(ligands).enter().append("g")
  .attr("transform", function (d, i) { return "translate(0," + legendY[i] + ")"; });
legend.append("text").attr("x", 450).attr("y", 5).attr("text-anchor", "end")
  .attr("textLength", 48).attr("lengthAdjust", "spacingAndGlyphs")
  .style("font-size", "17px").style("font-weight", "bold").style("fill", "#111")
  .text(function (d) { return d; });
legend.append("line").attr("x1", 460).attr("x2", 565)
  .attr("stroke", function (d, i) { return legendColors[i]; }).attr("stroke-width", 2.6);
</script>
</body>
</html>
